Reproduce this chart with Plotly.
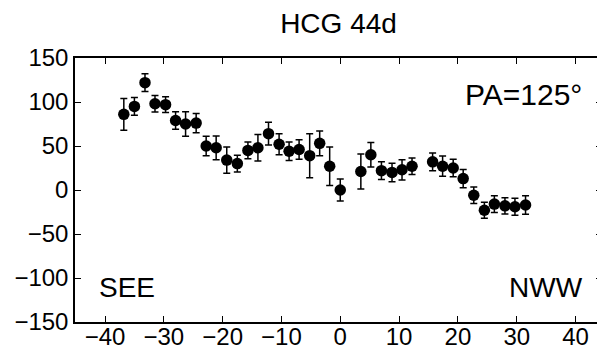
import plotly.graph_objects as go

# Data
radius = [-36.8, -35.0, -33.2, -31.5, -29.7, -28.0, -26.3, -24.5, -22.8, -21.1,
          -19.3, -17.5, -15.7, -14.0, -12.2, -10.4, -8.7, -7.0, -5.2, -3.5,
          -1.8, 0.0, 3.5, 5.2, 7.0, 8.8, 10.5, 12.2, 15.7, 17.4,
          19.2, 20.9, 22.7, 24.5, 26.2, 28.0, 29.7, 31.5]
velocity = [86, 95, 122, 98, 97, 79, 75, 76, 50, 48,
            34, 30, 45, 48, 64, 52, 44, 46, 39, 53,
            27, 0, 21, 40, 22, 20, 23, 27, 32, 27,
            25, 13, -6, -23, -16, -18, -19, -17]
error = [18, 10, 10, 9.5, 9, 10, 14, 11, 11, 13.5,
         15, 9.5, 9.6, 15, 13, 12, 10.5, 11, 25, 14,
         22, 12.5, 20, 14, 10, 10.5, 11.5, 9.5, 10, 11.5,
         10, 10.4, 9.3, 9, 9.5, 9.3, 9.7, 10.5]

x_ticks = [-40, -30, -20, -10, 0, 10, 20, 30, 40]
y_ticks = [-150, -100, -50, 0, 50, 100, 150]

FONT = "Liberation Sans, Arial, sans-serif"

fig = go.Figure()
fig.add_trace(go.Scatter(
    x=radius, y=velocity, mode="markers",
    marker=dict(color="black", size=11.5),
    error_y=dict(type="data", array=error, visible=True,
                 color="black", thickness=1.5, width=3.5),
    showlegend=False,
))

axis_common = dict(
    showline=True, linecolor="black", linewidth=1.5, mirror="ticks",
    ticks="inside", ticklen=6, tickwidth=1.2, tickcolor="black",
    showgrid=False, zeroline=False,
    tickfont=dict(family=FONT, size=24, color="black"),
)

fig.update_xaxes(range=[-45.1, 44.5], tickvals=x_ticks,
                 ticklabelstandoff=-8, **axis_common)
fig.update_yaxes(range=[-150, 150], tickvals=y_ticks, **axis_common)

fig.add_annotation(x=20.9, y=108, xref="x", yref="y", text="PA=125°",
                   showarrow=False, xanchor="left", yanchor="middle",
                   font=dict(family=FONT, size=30, color="black"))
fig.add_annotation(x=-41.4, y=-111, xref="x", yref="y", text="SEE",
                   showarrow=False, xanchor="left", yanchor="middle",
                   font=dict(family=FONT, size=28, color="black"))
fig.add_annotation(x=41.6, y=-111, xref="x", yref="y", text="NWW",
                   showarrow=False, xanchor="right", yanchor="middle",
                   font=dict(family=FONT, size=28, color="black"))

# page body adds an 8px offset; size figure to fit the 605x354 window
fig.update_layout(
    width=597, height=346,
    margin=dict(l=67, r=3, t=50, b=32, autoexpand=False),
    paper_bgcolor="white", plot_bgcolor="white",
    title=dict(text="HCG 44d", x=0.5, xref="paper", y=0.957, yanchor="middle",
               font=dict(family=FONT, size=28, color="black")),
)

fig.write_html("out.html")
